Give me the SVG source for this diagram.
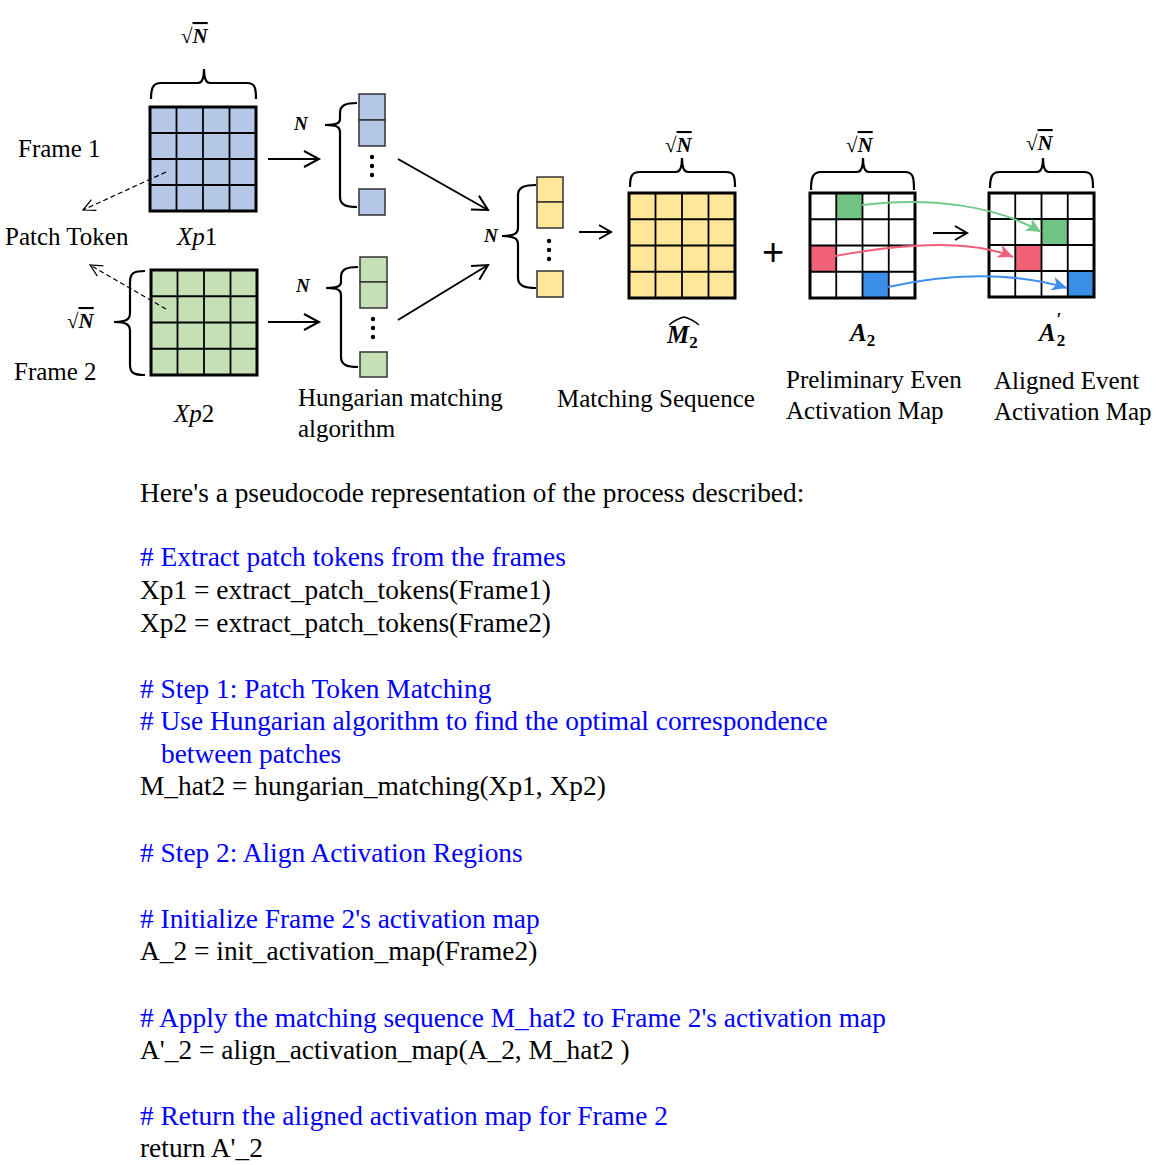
<svg xmlns="http://www.w3.org/2000/svg" width="1161" height="1165" viewBox="0 0 1161 1165">
<style>
.lbl{font-family:"Liberation Serif","Times New Roman",serif;font-size:25px;fill:#000}
.code{font-family:"Liberation Serif","Times New Roman",serif;font-size:27.4px;fill:#000}
.cm{fill:#0000ff}
.math{font-family:"Liberation Serif","Times New Roman",serif;font-style:italic;font-weight:bold;fill:#000}
.rad{font-family:"Liberation Serif","Times New Roman",serif;font-size:21px;fill:#000}
.rn{font-style:italic;font-weight:bold;text-decoration:overline}
.mi{font-family:"Liberation Serif","Times New Roman",serif;font-style:italic;font-size:25px;fill:#000}
.sub{font-style:normal}
.outer{fill:none;stroke:#000;stroke-width:3}
.inner{stroke:#000;stroke-width:1.8;fill:none}
.brace{fill:none;stroke:#000;stroke-width:2.2}
.cell{stroke:#333;stroke-width:1.5}
.arr{stroke:#000;stroke-width:2;fill:none}
.dash{stroke:#000;stroke-width:1.2;stroke-dasharray:5 3;fill:none}
.blue{fill:#b4c7e7}.green{fill:#c5e0b4}.yellow{fill:#ffe699}
</style>
<defs>
<marker id="mOpen" markerUnits="userSpaceOnUse" markerWidth="20" markerHeight="20" refX="17" refY="10" orient="auto" overflow="visible">
<path d="M2,2 L17,10 L2,18" fill="none" stroke="#000" stroke-width="2"/>
</marker>
<marker id="mSmall" markerUnits="userSpaceOnUse" markerWidth="14" markerHeight="16" refX="13" refY="8" orient="auto" overflow="visible">
<path d="M1,1 L13,8 L1,15" fill="none" stroke="#000" stroke-width="2"/>
</marker>
<marker id="mDash" markerUnits="userSpaceOnUse" markerWidth="14" markerHeight="14" refX="13" refY="7" orient="auto" overflow="visible">
<path d="M1,1 L13,7 L1,13" fill="none" stroke="#000" stroke-width="1.2"/>
</marker>
<marker id="mG" markerUnits="userSpaceOnUse" markerWidth="16" markerHeight="14" refX="15" refY="7" orient="auto" overflow="visible">
<path d="M0,0 L15,7 L0,14 L4,7 Z" fill="#74c888"/>
</marker>
<marker id="mR" markerUnits="userSpaceOnUse" markerWidth="16" markerHeight="14" refX="15" refY="7" orient="auto" overflow="visible">
<path d="M0,0 L15,7 L0,14 L4,7 Z" fill="#f0607a"/>
</marker>
<marker id="mB" markerUnits="userSpaceOnUse" markerWidth="16" markerHeight="14" refX="15" refY="7" orient="auto" overflow="visible">
<path d="M0,0 L15,7 L0,14 L4,7 Z" fill="#3d8fe8"/>
</marker>
</defs>
<rect width="1161" height="1165" fill="#fff"/>

<!-- Xp1 -->
<g id="xp1">
<text class="rad" x="181" y="43">√<tspan class="rn">N</tspan></text>
<path class="brace" d="M151,99 C151,88 153,83 161,83 H198 C202,83 204,79 204,69 C204,79 206,83 210,83 H247 C255,83 256,88 256,99"/>
<rect class="blue" x="150" y="107" width="106" height="104"/>
<path class="inner" d="M176.5,107V211M203,107V211M229.5,107V211M150,133H256M150,159H256M150,185H256"/>
<rect class="outer" x="150" y="107" width="106" height="104"/>
<text class="mi" x="177" y="245">Xp<tspan class="sub">1</tspan></text>
<text class="lbl" x="18" y="157">Frame 1</text>
</g>

<!-- Xp2 -->
<g id="xp2">
<text class="rad" x="67" y="328">√<tspan class="rn">N</tspan></text>
<path class="brace" d="M145,271 C134,271 130,273 130,282 V313 C130,319 127,322 114,322 C127,322 130,325 130,331 V365 C130,373 134,375 145,375"/>
<rect class="green" x="151" y="270" width="106" height="105"/>
<path class="inner" d="M177.5,270V375M204,270V375M230.5,270V375M151,296.25H257M151,322.5H257M151,348.75H257"/>
<rect class="outer" x="151" y="270" width="106" height="105"/>
<text class="mi" x="174" y="422">Xp<tspan class="sub">2</tspan></text>
<text class="lbl" x="14" y="380">Frame 2</text>
</g>

<g id="patch-token">
<text class="lbl" x="5" y="245">Patch Token</text>
</g>

<!-- Blue token column -->
<g id="col-blue">
<text class="math" x="294" y="130" font-size="19">N</text>
<path class="brace" d="M357,103 C346,103 340,105 340,113 V119 C340,123 337,125 325,125 C337,125 340,127 340,132 V197 C340,205 346,207 357,207"/>
<rect class="cell blue" x="359" y="94" width="26" height="26"/>
<rect class="cell blue" x="359" y="120" width="26" height="26"/>
<circle cx="372" cy="157" r="2.2"/><circle cx="372" cy="166" r="2.2"/><circle cx="372" cy="175" r="2.2"/>
<rect class="cell blue" x="359" y="189" width="26" height="26"/>
</g>

<!-- Green token column -->
<g id="col-green">
<text class="math" x="296" y="292" font-size="19">N</text>
<path class="brace" d="M358,267 C347,267 341,269 341,277 V282 C341,286 338,288 326,288 C338,288 341,290 341,295 V357 C341,365 347,367 358,367"/>
<rect class="cell green" x="360" y="257" width="27" height="25"/>
<rect class="cell green" x="360" y="282" width="27" height="26"/>
<circle cx="373" cy="319" r="2.2"/><circle cx="373" cy="328" r="2.2"/><circle cx="373" cy="337" r="2.2"/>
<rect class="cell green" x="360" y="352" width="27" height="25"/>
<text class="lbl" x="298" y="406">Hungarian matching</text>
<text class="lbl" x="298" y="437">algorithm</text>
</g>

<!-- Yellow matched column -->
<g id="col-yellow">
<text class="math" x="484" y="242" font-size="19">N</text>
<path class="brace" d="M536,185 C525,185 518,187 518,195 V228 C518,233 515,236 502,236 C515,236 518,239 518,244 V278 C518,286 525,288 536,288"/>
<rect class="cell yellow" x="537" y="177" width="26" height="25"/>
<rect class="cell yellow" x="537" y="202" width="26" height="26"/>
<circle cx="549" cy="241" r="2.2"/><circle cx="549" cy="250" r="2.2"/><circle cx="549" cy="259" r="2.2"/>
<rect class="cell yellow" x="537" y="271" width="26" height="26"/>
</g>

<!-- M2 hat -->
<g id="m2">
<text class="rad" x="665" y="152">√<tspan class="rn">N</tspan></text>
<path class="brace" d="M630,187 C630,176 632,172 640,172 H676 C680,172 682,168 682,158 C682,168 684,172 688,172 H726 C734,172 735,176 735,187"/>
<rect class="yellow" x="629" y="193" width="106" height="105"/>
<path class="inner" d="M655.5,193V298M682,193V298M708.5,193V298M629,219.25H735M629,245.5H735M629,271.75H735"/>
<rect class="outer" x="629" y="193" width="106" height="105"/>
<text class="math" x="667" y="343" font-size="25">M<tspan class="sub" font-size="17" dy="5">2</tspan></text>
<path d="M669,325 Q676,319 684,317 Q692,319 699,325" fill="none" stroke="#000" stroke-width="1.4"/>
<text class="lbl" x="557" y="407">Matching Sequence</text>
</g>

<g id="plus">
<text x="773" y="265" font-family="Liberation Sans, Arial, sans-serif" font-size="38" text-anchor="middle" fill="#000">+</text>
</g>

<!-- A2 -->
<g id="a2">
<text class="rad" x="846" y="152">√<tspan class="rn">N</tspan></text>
<path class="brace" d="M811,190 C811,177 813,172 821,172 H857 C861,172 863,168 863,158 C863,168 865,172 869,172 H905 C913,172 914,177 914,190"/>
<rect x="810" y="193" width="105" height="105" fill="#fff"/>
<rect x="836.25" y="193" width="26.25" height="26.25" fill="#70c383"/>
<rect x="810" y="245.5" width="26.25" height="26.25" fill="#f06076"/>
<rect x="862.5" y="271.75" width="26.25" height="26.25" fill="#3a8ee8"/>
<path class="inner" d="M836.25,193V298M862.5,193V298M888.75,193V298M810,219.25H915M810,245.5H915M810,271.75H915"/>
<rect class="outer" x="810" y="193" width="105" height="105"/>
<text class="math" x="850" y="341" font-size="25">A<tspan class="sub" font-size="17" dy="5">2</tspan></text>
<text class="lbl" x="786" y="388">Preliminary Even</text>
<text class="lbl" x="786" y="419">Activation Map</text>
</g>

<!-- A'2 -->
<g id="a2p">
<text class="rad" x="1026" y="150">√<tspan class="rn">N</tspan></text>
<path class="brace" d="M990,188 C990,177 992,172 1000,172 H1037 C1041,172 1043,168 1043,158 C1043,168 1045,172 1049,172 H1084 C1092,172 1093,177 1093,188"/>
<rect x="989" y="193" width="105" height="104" fill="#fff"/>
<rect x="1041.5" y="219" width="26.25" height="26" fill="#70c383"/>
<rect x="1015.25" y="245" width="26.25" height="26" fill="#f06076"/>
<rect x="1067.75" y="271" width="26.25" height="26" fill="#3a8ee8"/>
<path class="inner" d="M1015.25,193V297M1041.5,193V297M1067.75,193V297M989,219H1094M989,245H1094M989,271H1094"/>
<rect class="outer" x="989" y="193" width="105" height="104"/>
<text class="math" x="1039" y="341" font-size="25">A<tspan class="sub" font-size="17" dx="1" dy="5">2</tspan><tspan font-size="18" dx="-9" dy="-20">′</tspan></text>
<text class="lbl" x="994" y="389">Aligned Event</text>
<text class="lbl" x="994" y="420">Activation Map</text>
</g>

<!-- Connectors -->
<g id="connectors">
<line class="dash" x1="166" y1="172" x2="83" y2="210" marker-end="url(#mDash)"/>
<line class="dash" x1="166" y1="309" x2="90" y2="265" marker-end="url(#mDash)"/>
<line class="arr" x1="268" y1="159" x2="319" y2="159" marker-end="url(#mOpen)"/>
<line class="arr" x1="268" y1="322" x2="319" y2="322" marker-end="url(#mOpen)"/>
<line class="arr" x1="398" y1="159" x2="488" y2="210" marker-end="url(#mOpen)"/>
<line class="arr" x1="398" y1="320" x2="488" y2="265" marker-end="url(#mOpen)"/>
<line class="arr" x1="579" y1="232" x2="611" y2="232" marker-end="url(#mSmall)"/>
<line class="arr" x1="933" y1="233" x2="967" y2="233" marker-end="url(#mSmall)"/>
<path d="M862,205 C930,197 995,205 1041,232" fill="none" stroke="#74c888" stroke-width="2" marker-end="url(#mG)"/>
<path d="M835,256 C900,244 968,238 1013,257" fill="none" stroke="#f0607a" stroke-width="2" marker-end="url(#mR)"/>
<path d="M888,287 C945,274 1012,271 1067,288" fill="none" stroke="#3d8fe8" stroke-width="2" marker-end="url(#mB)"/>
</g>

<!-- Pseudocode -->
<g id="pseudocode">
<text class="code" x="140" y="502">Here's a pseudocode representation of the process described:</text>
<text class="code cm" x="140" y="566"># Extract patch tokens from the frames</text>
<text class="code" x="140" y="599">Xp1 = extract_patch_tokens(Frame1)</text>
<text class="code" x="140" y="632">Xp2 = extract_patch_tokens(Frame2)</text>
<text class="code cm" x="140" y="698"># Step 1: Patch Token Matching</text>
<text class="code cm" x="140" y="730"># Use Hungarian algorithm to find the optimal correspondence</text>
<text class="code cm" x="161" y="763">between patches</text>
<text class="code" x="140" y="795">M_hat2 = hungarian_matching(Xp1, Xp2)</text>
<text class="code cm" x="140" y="862"># Step 2: Align Activation Regions</text>
<text class="code cm" x="140" y="928"># Initialize Frame 2's activation map</text>
<text class="code" x="140" y="960">A_2 = init_activation_map(Frame2)</text>
<text class="code cm" x="140" y="1027"># Apply the matching sequence M_hat2 to Frame 2's activation map</text>
<text class="code" x="140" y="1059">A'_2 = align_activation_map(A_2, M_hat2 )</text>
<text class="code cm" x="140" y="1125"># Return the aligned activation map for Frame 2</text>
<text class="code" x="140" y="1157">return A'_2</text>
</g>
</svg>
